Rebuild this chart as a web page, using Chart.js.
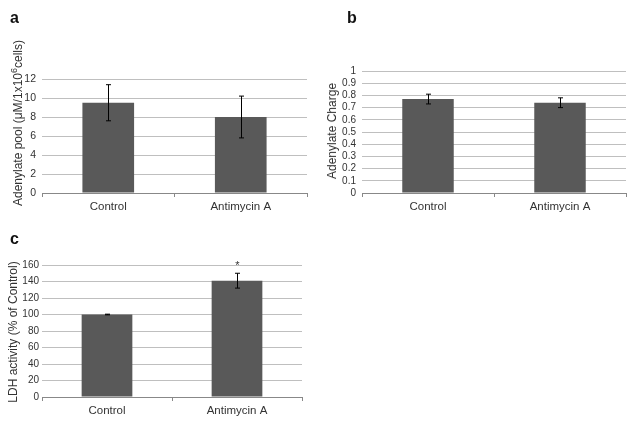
<!DOCTYPE html>
<html>
<head>
<meta charset="utf-8">
<script src="https://cdn.jsdelivr.net/npm/chart.js@4.4.1/dist/chart.umd.min.js"></script>
<style>
  body { margin: 0; background: #fff; width: 635px; height: 422px; position: relative; overflow: hidden; font-family: "Liberation Sans", Arial, sans-serif; }
  .box { position: absolute; }
  .lbl { position: absolute; font-weight: bold; font-size: 16px; color: #111; }
  .ytitle { position: absolute; white-space: nowrap; font-size: 12px; color: #333; transform: translate(-50%, -50%) rotate(-90deg); line-height: 1; }
  .ytitle sup { font-size: 9px; vertical-align: 5px; }
</style>
</head>
<body>
<div class="box" style="left:0; top:0; width:315px; height:215px;"><canvas id="chartA"></canvas></div>
<div class="box" style="left:318px; top:0; width:317px; height:215px;"><canvas id="chartB"></canvas></div>
<div class="box" style="left:0; top:215px; width:315px; height:207px;"><canvas id="chartC"></canvas></div>

<div class="lbl" style="left:10px; top:9px;">a</div>
<div class="lbl" style="left:347px; top:9px;">b</div>
<div class="lbl" style="left:10px; top:230px;">c</div>

<div class="ytitle" style="left:17px; top:123px;">Adenylate pool (&mu;M/1x10<sup>6</sup>cells)</div>
<div class="ytitle" style="left:332px; top:131px;">Adenylate Charge</div>
<div class="ytitle" style="left:13px; top:332px;">LDH activity (% of Control)</div>

<script>
// categories
var groups = ['Control', 'Antimycin A'];

// a: adenylate pool
var poolValues = [9.5, 8.0];
var poolErrors = [1.9, 2.2];

// b: adenylate charge
var chargeValues = [0.77, 0.74];
var chargeErrors = [0.04, 0.04];

// c: LDH activity
var ldhValues = [100, 141];
var ldhErrors = [0.4, 9];
var ldhMarks = ['', '*'];

var textColor = '#333';
var fontFam = '"Liberation Sans", Arial, sans-serif';

// draws error bars (and significance marks) from the data
var errorBars = {
  id: 'errorBars',
  afterDatasetsDraw: function(chart, args, opts) {
    var ctx = chart.ctx;
    var meta = chart.getDatasetMeta(0);
    var yScale = chart.scales.y;
    var vals = chart.data.datasets[0].data;
    ctx.save();
    ctx.strokeStyle = '#000';
    ctx.lineWidth = 1;
    for (var i = 0; i < meta.data.length; i++) {
      var x = Math.round(meta.data[i].x) + 0.5;
      var err = opts.errors[i];
      var top = yScale.getPixelForValue(vals[i] + err);
      var bot = yScale.getPixelForValue(vals[i] - err);
      ctx.beginPath();
      ctx.moveTo(x, top); ctx.lineTo(x, bot);
      ctx.moveTo(x - 2.5, top); ctx.lineTo(x + 2.5, top);
      ctx.moveTo(x - 2.5, bot); ctx.lineTo(x + 2.5, bot);
      ctx.stroke();
      if (opts.marks && opts.marks[i]) {
        ctx.fillStyle = textColor;
        ctx.font = '11px ' + fontFam;
        ctx.textAlign = 'center';
        ctx.textBaseline = 'bottom';
        ctx.fillText(opts.marks[i], x, top - 2);
      }
    }
    ctx.restore();
  }
};

function makeChart(id, values, errors, marks, yMax, yStep, pad, tickFont, tickPad) {
  var ctx = document.getElementById(id).getContext('2d');
  return new Chart(ctx, {
    type: 'bar',
    data: {
      labels: groups,
      datasets: [{
        data: values,
        backgroundColor: '#595959',
        borderWidth: 0,
        categoryPercentage: 1,
        barPercentage: 0.39
      }]
    },
    options: {
      responsive: true,
      maintainAspectRatio: false,
      animation: false,
      layout: { padding: pad },
      plugins: {
        legend: { display: false },
        tooltip: { enabled: false },
        errorBars: { errors: errors, marks: marks }
      },
      scales: {
        x: {
          afterFit: function(scale) { scale.height = 22; },
          grid: { display: true, drawOnChartArea: false, drawTicks: true, tickLength: 4, color: '#888', offset: true },
          border: { display: true, color: '#888' },
          ticks: { color: textColor, font: { family: fontFam, size: 11.5 }, padding: 3 }
        },
        y: {
          min: 0,
          max: yMax,
          afterFit: function(scale) { scale.width = pad.yWidth; },
          grid: { color: '#bfbfbf', drawTicks: false },
          border: { display: false },
          ticks: {
            stepSize: yStep,
            autoSkip: false,
            color: textColor,
            font: { family: fontFam, size: tickFont },
            padding: tickPad,
            callback: function(v) { return String(Number(v.toFixed(2))); }
          }
        }
      }
    },
    plugins: [errorBars]
  });
}

makeChart('chartA', poolValues, poolErrors, null, 12, 2,
  { top: 79, right: 8, bottom: 0, left: 0, yWidth: 42 }, 10.5, 6);
makeChart('chartB', chargeValues, chargeErrors, null, 1, 0.1,
  { top: 71, right: 9, bottom: 0, left: 0, yWidth: 44 }, 10, 6);
makeChart('chartC', ldhValues, ldhErrors, ldhMarks, 160, 20,
  { top: 50, right: 13, bottom: 3, left: 0, yWidth: 42 }, 10, 3);
</script>
</body>
</html>
